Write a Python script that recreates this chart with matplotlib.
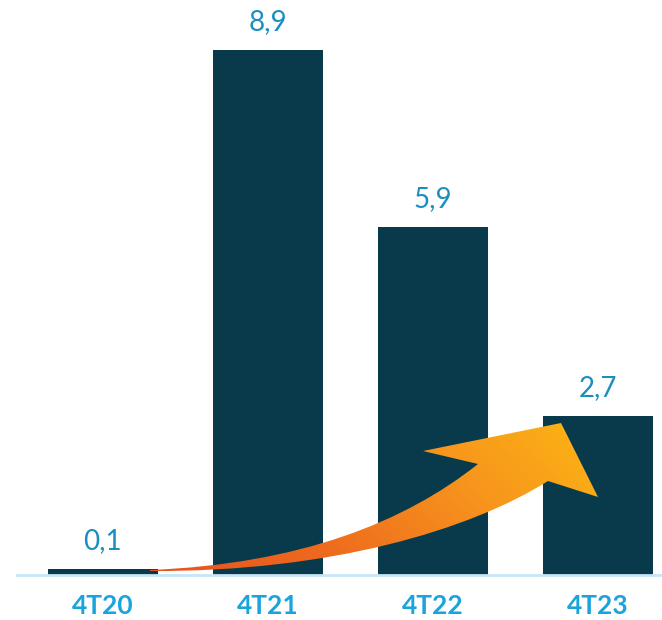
import numpy as np
import matplotlib.pyplot as plt
from matplotlib.path import Path
from matplotlib.patches import PathPatch
from matplotlib.colors import LinearSegmentedColormap

quarters = ["4T20", "4T21", "4T22", "4T23"]
values = [0.1, 8.9, 5.9, 2.7]

bar_color = "#083a4b"
value_color = "#1a8fbf"
tick_color = "#1ba4db"

fig = plt.figure(figsize=(6.62, 6.2), dpi=100)
ax = fig.add_axes([17 / 662, 45 / 620, 645 / 662, 575 / 620])

x = np.arange(len(quarters))
ax.bar(x, values, width=0.667, color=bar_color, zorder=2)
for xi, v in zip(x, values):
    ax.text(xi, v + 0.25, f"{v:.1f}".replace(".", ","), ha="center", va="bottom",
            fontsize=20, color=value_color, family="Lato")

ax.set_xlim(-0.52, 3.39)
ax.set_ylim(0, 9.75)
ax.set_xticks(x)
ax.set_xticklabels(quarters, fontsize=19, fontweight="bold", color=tick_color, family="Lato")
ax.tick_params(axis="x", length=0, pad=14)
ax.set_yticks([])
for s in ["top", "right", "left"]:
    ax.spines[s].set_visible(False)
ax.spines["bottom"].set_color("#c8e6f5")
ax.spines["bottom"].set_linewidth(2)

# curved gradient arrow drawn over the bars, in pixel space of the figure
over = fig.add_axes([0, 0, 1, 1], zorder=5)
over.set_xlim(0, 662)
over.set_ylim(620, 0)
over.axis("off")
over.patch.set_alpha(0)

verts = [
    (150, 570),
    (300, 564), (405, 522), (478, 464),   # upper edge
    (423, 451),                           # left barb
    (561, 423),                           # tip
    (598, 497),                           # right barb
    (548, 481),                           # lower notch
    (470, 530), (330, 572), (150, 571),   # lower edge
    (150, 570),
]
codes = [Path.MOVETO, Path.CURVE4, Path.CURVE4, Path.CURVE4,
         Path.LINETO, Path.LINETO, Path.LINETO, Path.LINETO,
         Path.CURVE4, Path.CURVE4, Path.CURVE4, Path.CLOSEPOLY]
patch = PathPatch(Path(verts, codes), facecolor="none", edgecolor="none")
over.add_patch(patch)

cmap = LinearSegmentedColormap.from_list("arrow", ["#e4501f", "#ee6a1e", "#f7941d", "#fdb913"])
gx, gy = np.meshgrid(np.linspace(0, 1, 300), np.linspace(0, 1, 300))
grad = 0.75 * gx + 0.25 * (1 - gy)
img = over.imshow(grad, cmap=cmap, extent=(140, 610, 580, 415), aspect="auto", zorder=6)
img.set_clip_path(patch)

fig.savefig("out.png", dpi=100)
